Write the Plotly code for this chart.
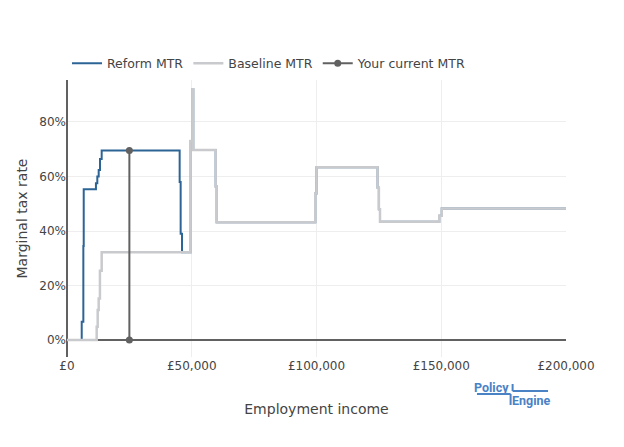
import plotly.graph_objects as go

# employment income (GBP) where the marginal rate changes, and the rate from there on
reform_income = [0, 5900, 6550, 6700, 11600, 12150, 12700, 13230, 13900, 45150, 45550, 46100,
                 49570, 50220, 50600, 59600, 60000, 99500, 100000, 124500, 125000, 125450,
                 149200, 150200, 200000]
reform_mtr = [0, 0.067, 0.345, 0.553, 0.575, 0.60, 0.624, 0.664, 0.695, 0.58, 0.39, 0.322,
              0.73, 0.92, 0.697, 0.563, 0.432, 0.538, 0.634, 0.559, 0.48, 0.434,
              0.456, 0.483, 0.483]

baseline_income = [0, 11900, 12300, 12700, 13200, 13900, 49570, 50220, 50600, 59600, 60000,
                   99500, 100000, 124500, 125000, 125450, 149200, 150200, 200000]
baseline_mtr = [0, 0.049, 0.11, 0.153, 0.254, 0.322, 0.73, 0.92, 0.697, 0.563, 0.432,
                0.538, 0.634, 0.559, 0.48, 0.434, 0.456, 0.483, 0.483]

current_income = [25000, 25000]
current_mtr = [0, 0.695]

BLUE = "#2C6496"
GRAY = "#C9CACE"
DARK_GRAY = "#616161"
LOGO_BLUE = "#4A82C6"

fig = go.Figure()
fig.add_trace(go.Scatter(x=reform_income, y=reform_mtr, name="Reform MTR",
                         mode="lines", line=dict(color=BLUE, width=2, shape="hv")))
fig.add_trace(go.Scatter(x=baseline_income, y=baseline_mtr, name="Baseline MTR",
                         mode="lines", line=dict(color=GRAY, width=2.5, shape="hv")))
fig.add_trace(go.Scatter(x=current_income, y=current_mtr, name="Your current MTR",
                         mode="lines+markers", line=dict(color=DARK_GRAY, width=2),
                         marker=dict(color=DARK_GRAY, size=7)))

# page body adds 8px at left and top, margins trimmed to match
fig.update_layout(
    width=624, height=447,
    margin=dict(l=59, r=66, t=72, b=98),
    paper_bgcolor="white", plot_bgcolor="white",
    font=dict(family="DejaVu Sans, Verdana, sans-serif", size=12, color="#444"),
    legend=dict(orientation="h", x=0, xanchor="left", y=1.005, yanchor="bottom",
                font=dict(size=12.5)),
)
fig.update_xaxes(
    title=dict(text="Employment income", font=dict(size=14), standoff=32),
    range=[0, 200000], tickprefix="£", tickformat=",", dtick=50000,
    showgrid=True, gridcolor="#eeeeee", automargin=False,
    zeroline=True, zerolinecolor=DARK_GRAY, zerolinewidth=1.5,
)
fig.update_yaxes(
    title=dict(text="Marginal tax rate", font=dict(size=14), standoff=8),
    range=[-0.062, 0.954], tickformat=".0%", dtick=0.2,
    showgrid=True, gridcolor="#eeeeee", automargin=False,
    zeroline=True, zerolinecolor=DARK_GRAY, zerolinewidth=1.5,
)

# PolicyEngine wordmark drawn from text and lines
logo_lines = [
    (0.893, -0.0975, 0.893, -0.1227),
    (0.893, -0.1227, 0.964, -0.1227),
    (0.8216, -0.1336, 0.889, -0.1336),
    (0.889, -0.1336, 0.889, -0.1733),
]
for x0, y0, x1, y1 in logo_lines:
    fig.add_shape(type="line", xref="paper", yref="paper", x0=x0, y0=y0, x1=x1, y1=y1,
                  line=dict(color=LOGO_BLUE, width=2))
fig.add_annotation(text="<b>Policy</b>", xref="paper", yref="paper", x=0.889, y=-0.11,
                   xanchor="right", yanchor="middle", showarrow=False,
                   font=dict(family="Liberation Sans Narrow, Roboto", size=12.5, color=LOGO_BLUE))
fig.add_annotation(text="<b>Engine</b>", xref="paper", yref="paper", x=0.888, y=-0.157,
                   xanchor="left", yanchor="middle", showarrow=False,
                   font=dict(family="Liberation Sans Narrow, Roboto", size=12.5, color=LOGO_BLUE))

fig.write_html("out.html")
